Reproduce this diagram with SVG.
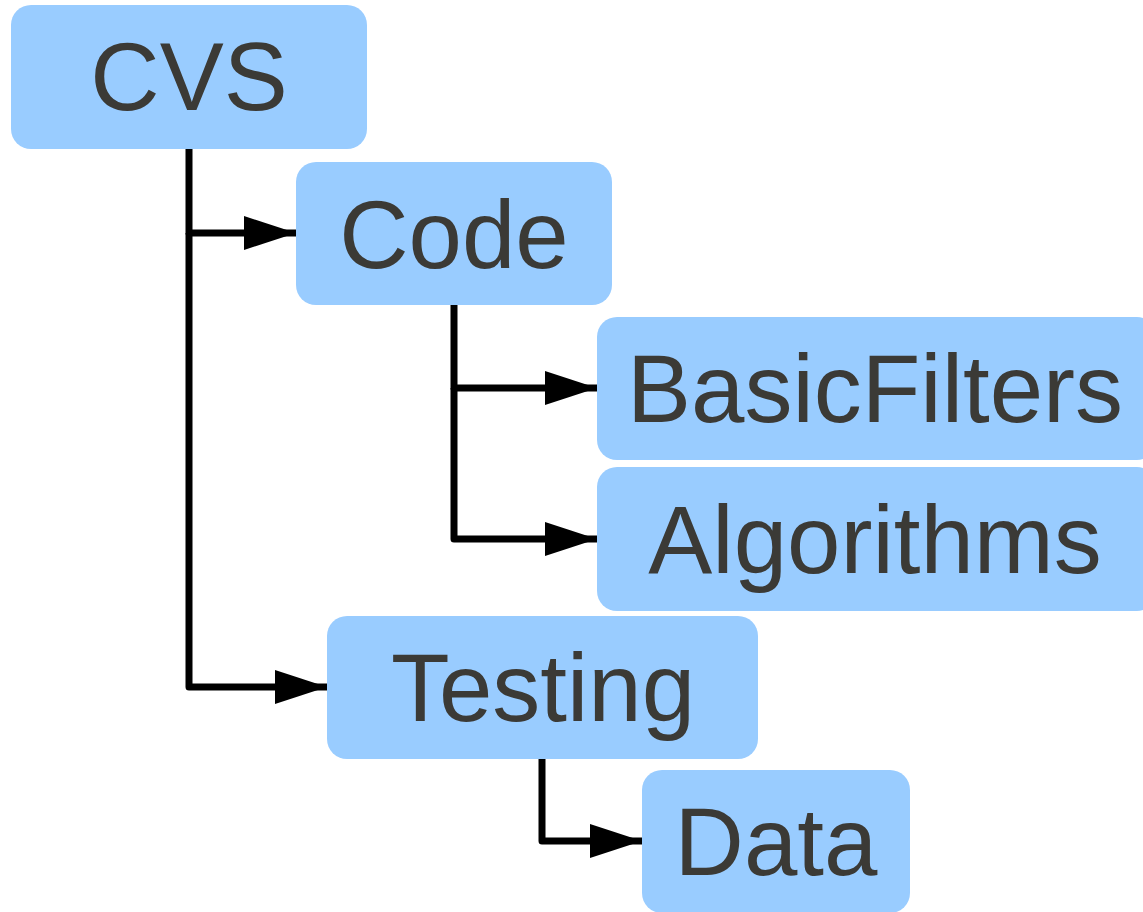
<svg xmlns="http://www.w3.org/2000/svg" width="1143" height="912" viewBox="0 0 1143 912">
<style>
.box{fill:#99ccff}
.lbl{font-family:"Liberation Sans",Arial,sans-serif;font-size:96px;fill:#3b3a36;text-anchor:middle}
.edge{fill:none;stroke:#000;stroke-width:7;stroke-linejoin:round}
</style>
<defs>
<marker id="arr" markerUnits="userSpaceOnUse" markerWidth="52" markerHeight="34" refX="52" refY="17" orient="auto">
<path d="M0,0 L52,17 L0,34 z" fill="#000"/>
</marker>
</defs>
<rect width="1143" height="912" fill="#fff"/>
<g id="connectors">
<path class="edge" d="M189,149 V233 H296" marker-end="url(#arr)"/>
<path class="edge" d="M189,233 V687 H327" marker-end="url(#arr)"/>
<path class="edge" d="M454,305 V388 H597" marker-end="url(#arr)"/>
<path class="edge" d="M454,388 V539 H597" marker-end="url(#arr)"/>
<path class="edge" d="M542,759 V841 H642" marker-end="url(#arr)"/>
</g>
<g id="cvs"><rect class="box" x="11" y="5" width="356" height="144" rx="20"/><text class="lbl" x="189" y="110">CVS</text></g>
<g id="code"><rect class="box" x="296" y="162" width="316" height="143" rx="20"/><text class="lbl" x="454" y="268">Code</text></g>
<g id="basicfilters"><rect class="box" x="597" y="317" width="560" height="143" rx="20"/><text class="lbl" x="875" y="422">BasicFilters</text></g>
<g id="algorithms"><rect class="box" x="597" y="467" width="560" height="144" rx="20"/><text class="lbl" x="875" y="573">Algorithms</text></g>
<g id="testing"><rect class="box" x="327" y="616" width="431" height="143" rx="20"/><text class="lbl" x="543" y="721">Testing</text></g>
<g id="data"><rect class="box" x="642" y="770" width="268" height="143" rx="20"/><text class="lbl" x="776" y="875">Data</text></g>
</svg>
